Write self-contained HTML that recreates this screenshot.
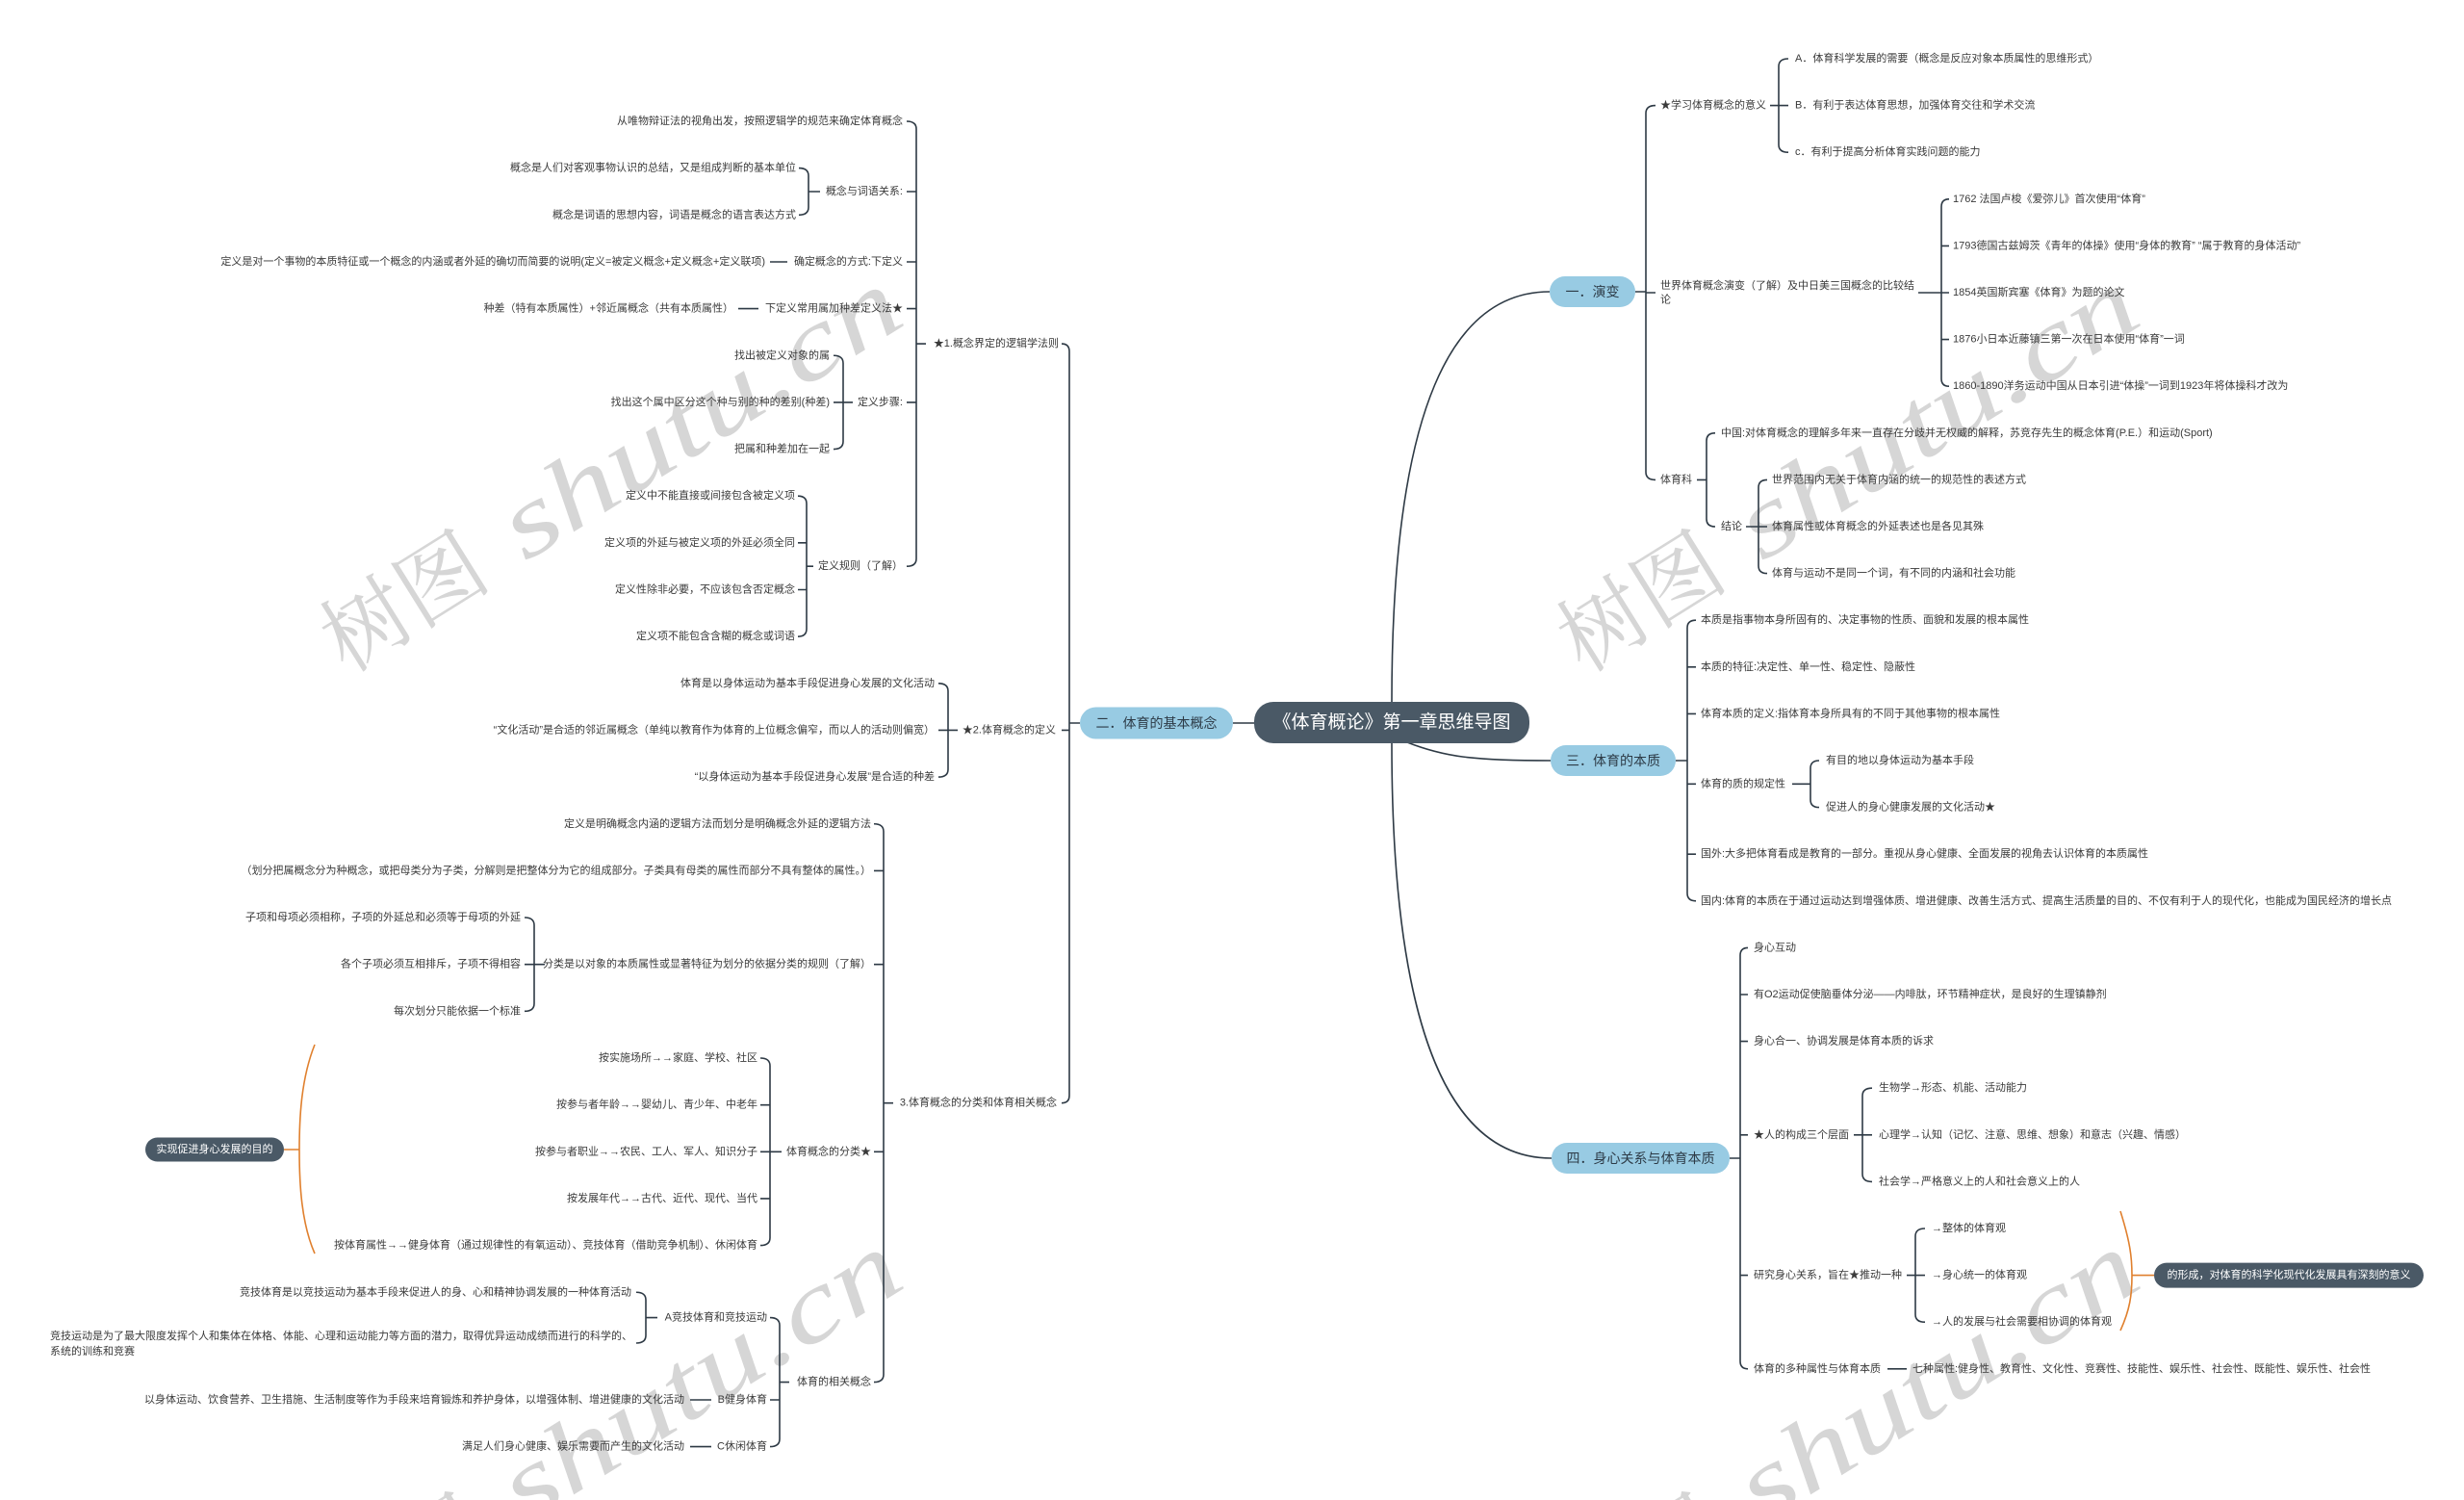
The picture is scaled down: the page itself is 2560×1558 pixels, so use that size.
<!DOCTYPE html>
<html>
<head>
<meta charset="utf-8">
<style>
html,body{margin:0;padding:0;background:#fff;width:2560px;height:1558px;overflow:hidden;}
#wrap{position:relative;width:2560px;height:1558px;overflow:hidden;}
svg{display:block;overflow:hidden;}
text{font-family:"Liberation Sans","Noto Sans CJK SC",sans-serif;dominant-baseline:central;}
.l{font-size:11px;fill:#3a3a3a;}
.e{text-anchor:end;}
.n{font-size:14px;fill:#2d3b47;text-anchor:middle;}
.w{fill:#fff;text-anchor:middle;}
.ln{stroke:#2e3a45;stroke-width:1.6;fill:none;}
.or{stroke:#e0802e;stroke-width:1.6;fill:none;}
.wm text{fill:#d6d6d6;dominant-baseline:alphabetic;}
</style>
</head>
<body>
<div id="wrap">
<svg width="2560" height="1558" viewBox="0 0 2560 1558" xmlns="http://www.w3.org/2000/svg">
<defs><clipPath id="cp"><rect x="0" y="0" width="2560" height="1558"/></clipPath></defs>
<rect width="2560" height="1558" fill="#fff"/>

<!-- watermarks -->
<g class="wm" clip-path="url(#cp)">
  <g transform="translate(360 700) rotate(-32)">
    <text x="0" y="0" font-size="90" style="font-family:'Noto Serif CJK SC',serif">树图</text>
    <text x="219" y="0" font-size="105" font-style="italic" style="font-family:'Liberation Serif',serif" textLength="470" lengthAdjust="spacingAndGlyphs">shutu.cn</text>
  </g>
  <g transform="translate(1645 700) rotate(-32)">
    <text x="0" y="0" font-size="90" style="font-family:'Noto Serif CJK SC',serif">树图</text>
    <text x="219" y="0" font-size="105" font-style="italic" style="font-family:'Liberation Serif',serif" textLength="470" lengthAdjust="spacingAndGlyphs">shutu.cn</text>
  </g>
  <g transform="translate(360 1700) rotate(-32)">
    <text x="0" y="0" font-size="90" style="font-family:'Noto Serif CJK SC',serif">树图</text>
    <text x="219" y="0" font-size="105" font-style="italic" style="font-family:'Liberation Serif',serif" textLength="470" lengthAdjust="spacingAndGlyphs">shutu.cn</text>
  </g>
  <g transform="translate(1645 1700) rotate(-32)">
    <text x="0" y="0" font-size="90" style="font-family:'Noto Serif CJK SC',serif">树图</text>
    <text x="219" y="0" font-size="105" font-style="italic" style="font-family:'Liberation Serif',serif" textLength="470" lengthAdjust="spacingAndGlyphs">shutu.cn</text>
  </g>
</g>

<!-- connectors -->
<path class="ln" d="
M942 126Q952 126 952 134L952 580.2Q952 588.2 942 588.2
M942 199H952 M942 272H952 M942 320.6H952 M942 417.9H952 M952 357.1H962
M830 174.6Q840 174.6 840 182.6L840 215.3Q840 223.3 830 223.3 M840 199H852
M800 272H818
M767 320.6H788
M866 369.25Q876 369.25 876 377.25L876 458.55Q876 466.55 866 466.55 M866 417.9H886
M829 515.2Q838 515.2 838 523.2L838 653.15Q838 661.15 829 661.15 M829 563.85H838 M829 612.5H838 M838 588.2H845
M1103 357.1Q1111 357.1 1111 365.1L1111 1137.7Q1111 1145.7 1103 1145.7 M1103 758.45H1111 M1111 751H1122
M975 709.8Q985 709.8 985 717.8L985 799.1Q985 807.1 975 807.1 M975 758.45H985 M985 758.45H995
M908 855.75Q918 855.75 918 863.75L918 1427.6Q918 1435.6 908 1435.6 M908 904.4H918 M908 1001.7H918 M908 1196.3H918 M918 1145.7H928
M545 953Q555 953 555 961L555 1042.35Q555 1050.35 545 1050.35 M545 1001.7H555 M555 1001.7H566
M790 1099Q800 1099 800 1107L800 1285.6Q800 1293.6 790 1293.6 M790 1147.65H800 M790 1196.3H800 M790 1244.95H800 M800 1196.3H812
M800 1368.6Q810 1368.6 810 1376.6L810 1494.6Q810 1502.6 800 1502.6 M800 1454H810 M810 1435.6H820
M661 1342.25Q671 1342.25 671 1350.25L671 1387Q671 1395 661 1395 M671 1368.6H683
M717 1454H739
M717 1502.6H739
M1281 751H1303
M1699 303H1710 M1720 109.6Q1710 109.6 1710 117.6L1710 490.4Q1710 498.4 1720 498.4 M1710 304H1720
M1839 109.6H1848 M1858 61Q1848 61 1848 69L1848 150.2Q1848 158.2 1858 158.2 M1848 109.6H1858
M1993 304H2017 M2025 206.8Q2017 206.8 2017 214.8L2017 393.2Q2017 401.2 2025 401.2 M2017 255.4H2025 M2017 304H2025 M2017 352.6H2025
M1763 498.4H1773 M1782 449.8Q1773 449.8 1773 457.8L1773 539Q1773 547 1782 547
M1814 547H1827 M1836 498.4Q1827 498.4 1827 506.4L1827 587.6Q1827 595.6 1836 595.6 M1827 547H1836
M1741 790H1753 M1762 644.2Q1753 644.2 1753 652.2L1753 927.8Q1753 935.8 1762 935.8 M1753 692.8H1762 M1753 741.4H1762 M1753 814.3H1762 M1753 887.2H1762
M1862 814.3H1881 M1890 790Q1881 790 1881 798L1881 830.6Q1881 838.6 1890 838.6
M1797 1203H1808 M1816 984.4Q1808 984.4 1808 992.4L1808 1413.8Q1808 1421.8 1816 1421.8 M1808 1033H1816 M1808 1081.6H1816 M1808 1178.8H1816 M1808 1324.6H1816
M1926 1178.8H1935 M1945 1130.2Q1935 1130.2 1935 1138.2L1935 1219.4Q1935 1227.4 1945 1227.4 M1935 1178.8H1945
M1981 1324.6H1990 M2000 1276Q1990 1276 1990 1284L1990 1365.2Q1990 1373.2 2000 1373.2 M1990 1324.6H2000
M1961 1421.8H1981
M1446 729C1446 420 1510 303 1610 303
M1446 772C1446 1080 1510 1203 1612 1203
M1462 771C1500 786 1530 790 1611 790
"/>
<path class="or" d="M327 1085C313 1120 311 1160 311 1194C311 1230 313 1270 327 1302 M295 1194H311
M2203 1258C2213 1290 2215 1305 2215 1324.6C2215 1345 2213 1360 2203 1382 M2215 1324.6H2238"/>

<!-- nodes -->
<rect x="1303" y="729" width="286" height="43" rx="20" fill="#4a5966"/>
<text class="w" x="1446" y="750.5" font-size="19">《体育概论》第一章思维导图</text>

<rect x="1122" y="734.5" width="159" height="33" rx="16.5" fill="#98cbe3"/>
<text class="n" x="1201.5" y="751">二．体育的基本概念</text>
<rect x="1610" y="287" width="89" height="32" rx="16" fill="#98cbe3"/>
<text class="n" x="1654.5" y="303">一．演变</text>
<rect x="1611" y="774" width="130" height="32" rx="16" fill="#98cbe3"/>
<text class="n" x="1676" y="790">三．体育的本质</text>
<rect x="1612" y="1187" width="185" height="32" rx="16" fill="#98cbe3"/>
<text class="n" x="1704.5" y="1203">四．身心关系与体育本质</text>

<rect x="151" y="1181.5" width="144" height="25" rx="12.5" fill="#4a5966"/>
<text class="w" x="223" y="1194" font-size="11">实现促进身心发展的目的</text>
<rect x="2238" y="1311.6" width="280" height="26" rx="13" fill="#4a5966"/>
<text class="w" x="2378" y="1324.6" font-size="11">的形成，对体育的科学化现代化发展具有深刻的意义</text>

<!-- left texts -->
<g class="l e">
<text x="938" y="126">从唯物辩证法的视角出发，按照逻辑学的规范来确定体育概念</text>
<text x="827" y="174.6">概念是人们对客观事物认识的总结，又是组成判断的基本单位</text>
<text x="827" y="223.3">概念是词语的思想内容，词语是概念的语言表达方式</text>
<text x="938" y="199">概念与词语关系:</text>
<text x="938" y="272">确定概念的方式:下定义</text>
<text x="795" y="272">定义是对一个事物的本质特征或一个概念的内涵或者外延的确切而简要的说明(定义=被定义概念+定义概念+定义联项)</text>
<text x="938" y="320.6">下定义常用属加种差定义法★</text>
<text x="762" y="320.6">种差（特有本质属性）+邻近属概念（共有本质属性）</text>
<text x="938" y="417.9">定义步骤:</text>
<text x="862" y="369.25">找出被定义对象的属</text>
<text x="862" y="417.9">找出这个属中区分这个种与别的种的差别(种差)</text>
<text x="862" y="466.55">把属和种差加在一起</text>
<text x="938" y="588.2">定义规则（了解）</text>
<text x="826" y="515.2">定义中不能直接或间接包含被定义项</text>
<text x="826" y="563.85">定义项的外延与被定义项的外延必须全同</text>
<text x="826" y="612.5">定义性除非必要，不应该包含否定概念</text>
<text x="826" y="661.15">定义项不能包含含糊的概念或词语</text>
<text x="1100" y="357.1">★1.概念界定的逻辑学法则</text>
<text x="1097" y="758.45">★2.体育概念的定义</text>
<text x="971" y="709.8">体育是以身体运动为基本手段促进身心发展的文化活动</text>
<text x="971" y="758.45">“文化活动”是合适的邻近属概念（单纯以教育作为体育的上位概念偏窄，而以人的活动则偏宽）</text>
<text x="971" y="807.1">“以身体运动为基本手段促进身心发展”是合适的种差</text>
<text x="1098" y="1145.7">3.体育概念的分类和体育相关概念</text>
<text x="905" y="855.75">定义是明确概念内涵的逻辑方法而划分是明确概念外延的逻辑方法</text>
<text x="905" y="904.4">（划分把属概念分为种概念，或把母类分为子类，分解则是把整体分为它的组成部分。子类具有母类的属性而部分不具有整体的属性。）</text>
<text x="905" y="1001.7">分类是以对象的本质属性或显著特征为划分的依据分类的规则（了解）</text>
<text x="541" y="953">子项和母项必须相称，子项的外延总和必须等于母项的外延</text>
<text x="541" y="1001.7">各个子项必须互相排斥，子项不得相容</text>
<text x="541" y="1050.35">每次划分只能依据一个标准</text>
<text x="905" y="1196.3">体育概念的分类★</text>
<text x="787" y="1099">按实施场所→→家庭、学校、社区</text>
<text x="787" y="1147.65">按参与者年龄→→婴幼儿、青少年、中老年</text>
<text x="787" y="1196.3">按参与者职业→→农民、工人、军人、知识分子</text>
<text x="787" y="1244.95">按发展年代→→古代、近代、现代、当代</text>
<text x="787" y="1293.6">按体育属性→→健身体育（通过规律性的有氧运动）、竞技体育（借助竞争机制）、休闲体育</text>
<text x="905" y="1435.6">体育的相关概念</text>
<text x="797" y="1368.6">A竞技体育和竞技运动</text>
<text x="656" y="1342.25">竞技体育是以竞技运动为基本手段来促进人的身、心和精神协调发展的一种体育活动</text>
<text x="797" y="1454">B健身体育</text>
<text x="711" y="1454">以身体运动、饮食营养、卫生措施、生活制度等作为手段来培育锻炼和养护身体，以增强体制、增进健康的文化活动</text>
<text x="797" y="1502.6">C休闲体育</text>
<text x="711" y="1502.6">满足人们身心健康、娱乐需要而产生的文化活动</text>
</g>
<g class="l">
<text x="52" y="1388">竞技运动是为了最大限度发挥个人和集体在体格、体能、心理和运动能力等方面的潜力，取得优异运动成绩而进行的科学的、</text>
<text x="52" y="1404">系统的训练和竞赛</text>
</g>

<!-- right texts -->
<g class="l">
<text x="1725" y="109.6">★学习体育概念的意义</text>
<text x="1865" y="61">A．体育科学发展的需要（概念是反应对象本质属性的思维形式）</text>
<text x="1865" y="109.6">B．有利于表达体育思想，加强体育交往和学术交流</text>
<text x="1865" y="158.2">c．有利于提高分析体育实践问题的能力</text>
<text x="1725" y="297">世界体育概念演变（了解）及中日美三国概念的比较结</text>
<text x="1725" y="311.5">论</text>
<text x="2029" y="206.8">1762 法国卢梭《爱弥儿》首次使用“体育”</text>
<text x="2029" y="255.4">1793德国古兹姆茨《青年的体操》使用“身体的教育” “属于教育的身体活动”</text>
<text x="2029" y="304">1854英国斯宾塞《体育》为题的论文</text>
<text x="2029" y="352.6">1876小日本近藤镇三第一次在日本使用“体育”一词</text>
<text x="2029" y="401.2">1860-1890洋务运动中国从日本引进“体操”一词到1923年将体操科才改为</text>
<text x="1725" y="498.4">体育科</text>
<text x="1788" y="449.8">中国:对体育概念的理解多年来一直存在分歧并无权威的解释，苏竞存先生的概念体育(P.E.）和运动(Sport)</text>
<text x="1788" y="547">结论</text>
<text x="1841" y="498.4">世界范围内无关于体育内涵的统一的规范性的表述方式</text>
<text x="1841" y="547">体育属性或体育概念的外延表述也是各见其殊</text>
<text x="1841" y="595.6">体育与运动不是同一个词，有不同的内涵和社会功能</text>

<text x="1767" y="644.2">本质是指事物本身所固有的、决定事物的性质、面貌和发展的根本属性</text>
<text x="1767" y="692.8">本质的特征:决定性、单一性、稳定性、隐蔽性</text>
<text x="1767" y="741.4">体育本质的定义:指体育本身所具有的不同于其他事物的根本属性</text>
<text x="1767" y="814.3">体育的质的规定性</text>
<text x="1897" y="790">有目的地以身体运动为基本手段</text>
<text x="1897" y="838.6">促进人的身心健康发展的文化活动★</text>
<text x="1767" y="887.2">国外:大多把体育看成是教育的一部分。重视从身心健康、全面发展的视角去认识体育的本质属性</text>
<text x="1767" y="935.8">国内:体育的本质在于通过运动达到增强体质、增进健康、改善生活方式、提高生活质量的目的、不仅有利于人的现代化，也能成为国民经济的增长点</text>

<text x="1822" y="984.4">身心互动</text>
<text x="1822" y="1033">有O2运动促使脑垂体分泌——内啡肽，环节精神症状，是良好的生理镇静剂</text>
<text x="1822" y="1081.6">身心合一、协调发展是体育本质的诉求</text>
<text x="1822" y="1178.8">★人的构成三个层面</text>
<text x="1952" y="1130.2">生物学→形态、机能、活动能力</text>
<text x="1952" y="1178.8">心理学→认知（记忆、注意、思维、想象）和意志（兴趣、情感）</text>
<text x="1952" y="1227.4">社会学→严格意义上的人和社会意义上的人</text>
<text x="1822" y="1324.6">研究身心关系，旨在★推动一种</text>
<text x="2007" y="1276">→整体的体育观</text>
<text x="2007" y="1324.6">→身心统一的体育观</text>
<text x="2007" y="1373.2">→人的发展与社会需要相协调的体育观</text>
<text x="1822" y="1421.8">体育的多种属性与体育本质</text>
<text x="1987" y="1421.8">七种属性:健身性、教育性、文化性、竞赛性、技能性、娱乐性、社会性、既能性、娱乐性、社会性</text>
</g>
</svg>
</div>
</body>
</html>
